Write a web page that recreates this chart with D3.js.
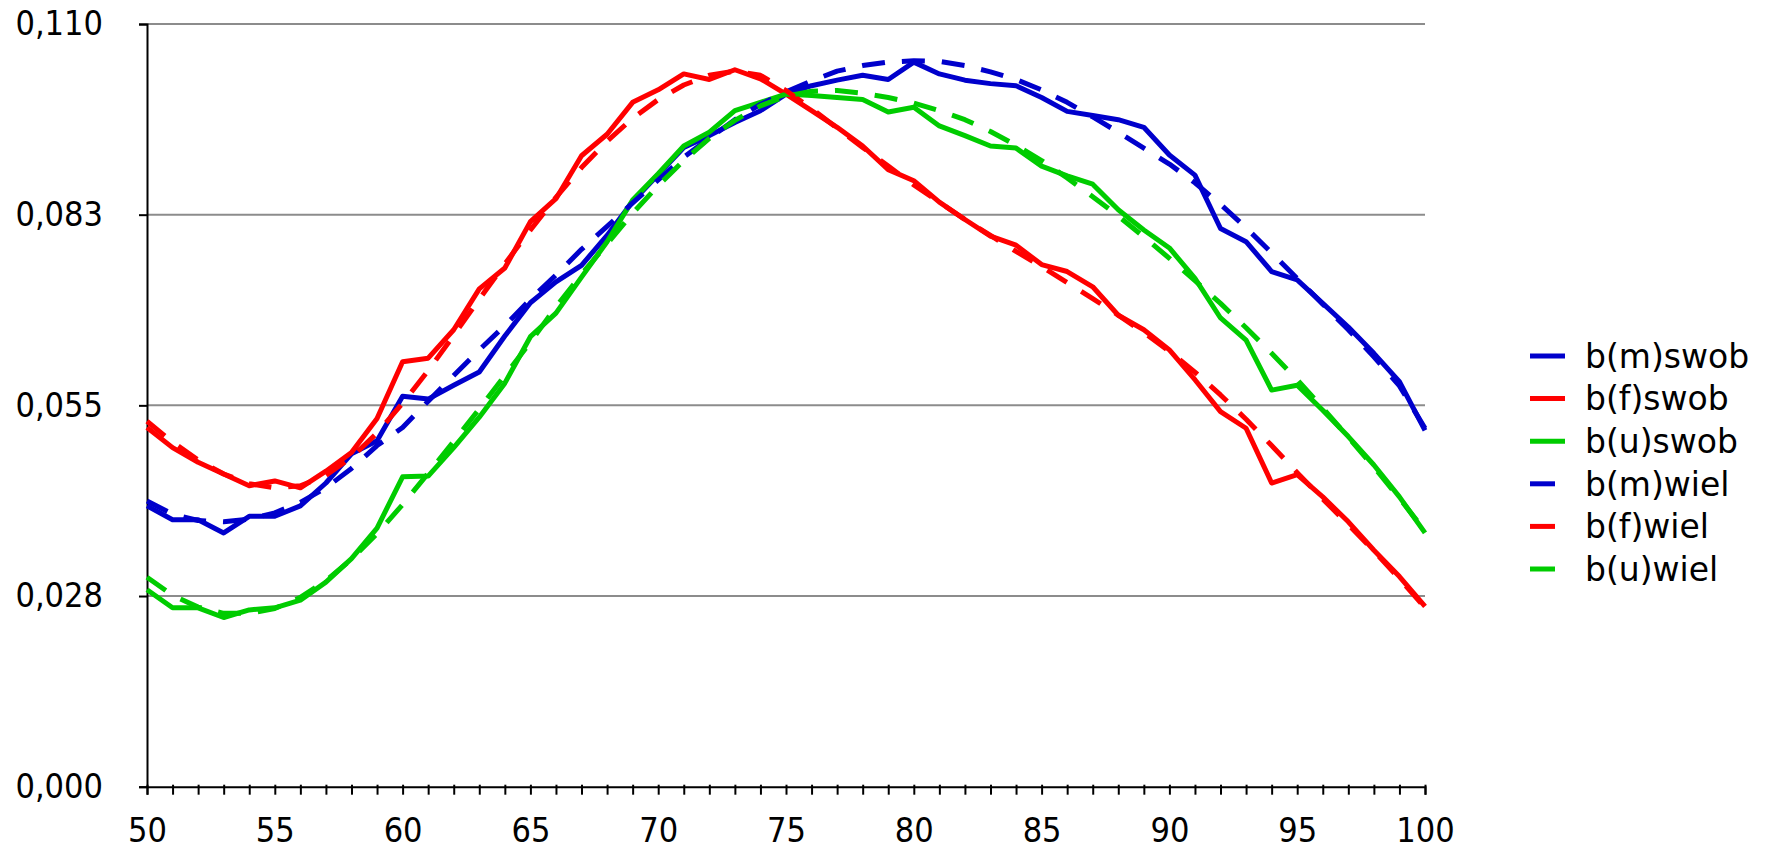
<!DOCTYPE html>
<html>
<head>
<meta charset="utf-8">
<script src="https://cdn.jsdelivr.net/npm/d3@7"></script>
<style>
  body { margin: 0; background: #ffffff; }
  svg { display: block; }
</style>
</head>
<body>
<div id="mydiv"></div>
<script>
const width = 1766,
  height = 850;

const plotLeft = 147,
  plotRight = 1425,
  plotTop = 24,
  plotBottom = 786.7;

// Data
const years = d3.range(50, 101);

const bmSwob = [0.0405, 0.0385, 0.0385, 0.0366, 0.039, 0.039, 0.0405, 0.0438, 0.048, 0.0499,
  0.0563, 0.0559, 0.0579, 0.0598, 0.065, 0.0698, 0.0728, 0.0752, 0.0795, 0.0844,
  0.0883, 0.0922, 0.0939, 0.0958, 0.0975, 0.0999, 0.1011, 0.1019, 0.1026, 0.102,
  0.1045, 0.1028, 0.1019, 0.1014, 0.1011, 0.0994, 0.0974, 0.0968, 0.0962, 0.0951,
  0.0911, 0.0882, 0.0805, 0.0786, 0.0743, 0.0731, 0.0697, 0.0663, 0.0625, 0.0584, 0.0514];

const bfSwob = [0.0518, 0.0489, 0.0468, 0.0451, 0.0434, 0.0441, 0.0431, 0.0455, 0.0482, 0.0531,
  0.0613, 0.0618, 0.0659, 0.0718, 0.0748, 0.0815, 0.0848, 0.091, 0.0941, 0.0987,
  0.1005, 0.1028, 0.102, 0.1034, 0.1021, 0.0999, 0.0975, 0.0951, 0.0924, 0.089,
  0.0874, 0.0843, 0.0818, 0.0794, 0.0781, 0.0753, 0.0743, 0.0721, 0.068, 0.0659,
  0.063, 0.0587, 0.0541, 0.0517, 0.0438, 0.045, 0.0418, 0.0382, 0.0341, 0.0303, 0.026];

const buSwob = [0.0284, 0.0258, 0.0258, 0.0244, 0.0255, 0.0258, 0.0269, 0.0295, 0.0329, 0.0373,
  0.0447, 0.0448, 0.0489, 0.0533, 0.0582, 0.0649, 0.0683, 0.0735, 0.0786, 0.0846,
  0.0884, 0.0924, 0.0944, 0.0975, 0.0987, 0.0999, 0.0997, 0.0994, 0.0991, 0.0973,
  0.098, 0.0953, 0.0939, 0.0924, 0.0921, 0.0895, 0.0881, 0.0869, 0.0832, 0.0803,
  0.0777, 0.0733, 0.0676, 0.0644, 0.0572, 0.0579, 0.0543, 0.0505, 0.0464, 0.0418, 0.0366];

const bmWiel = [0.0412, 0.0393, 0.0384, 0.0382, 0.0386, 0.0395, 0.041, 0.0431, 0.0459, 0.0492,
  0.0518, 0.0556, 0.0593, 0.063, 0.0665, 0.0703, 0.0738, 0.0775, 0.0808, 0.0842,
  0.0875, 0.0908, 0.0935, 0.0962, 0.0984, 0.1002, 0.1018, 0.1032, 0.104, 0.1045,
  0.1047, 0.1046, 0.104, 0.1031, 0.102, 0.1005, 0.0987, 0.0966, 0.0944, 0.0921,
  0.0898, 0.0871, 0.084, 0.0806, 0.077, 0.0733, 0.0696, 0.0659, 0.062, 0.0578, 0.0517];

const bfWiel = [0.0527, 0.0497, 0.0471, 0.0451, 0.0437, 0.0431, 0.0434, 0.0449, 0.0475, 0.051,
  0.0553, 0.06, 0.0651, 0.0703, 0.0754, 0.0803, 0.085, 0.0893, 0.0931, 0.0964,
  0.0991, 0.1012, 0.1026, 0.1032, 0.1026, 0.1004, 0.0978, 0.095, 0.0922, 0.0895,
  0.0868, 0.0843, 0.0818, 0.0795, 0.0772, 0.075, 0.0727, 0.0704, 0.068, 0.0655,
  0.0628, 0.0598, 0.0565, 0.053, 0.0492, 0.0453, 0.0415, 0.0378, 0.034, 0.03, 0.0258];

const buWiel = [0.0302, 0.0276, 0.0259, 0.025, 0.025, 0.0257, 0.0273, 0.0297, 0.0328, 0.0365,
  0.0407, 0.0452, 0.0498, 0.0545, 0.0593, 0.0641, 0.0692, 0.0739, 0.0783, 0.0827,
  0.0867, 0.0903, 0.0935, 0.0961, 0.0982, 0.0996, 0.1003, 0.1004, 0.1, 0.0994,
  0.0986, 0.0975, 0.0962, 0.0945, 0.0925, 0.0903, 0.0878, 0.0851, 0.0823, 0.0793,
  0.0762, 0.073, 0.0697, 0.0662, 0.0625, 0.0587, 0.0546, 0.0504, 0.0461, 0.0416, 0.0369];

const seriesNames = ["b(m)swob", "b(f)swob", "b(u)swob", "b(m)wiel", "b(f)wiel", "b(u)wiel"];
const seriesValues = [bmSwob, bfSwob, buSwob, bmWiel, bfWiel, buWiel];
const seriesColors = ["#0000cc", "#ff0000", "#00cc00", "#0000cc", "#ff0000", "#00cc00"];
const seriesDashed = [false, false, false, true, true, true];

const yTicks = [0, 0.0275, 0.055, 0.0825, 0.11];
const yTickLabels = ["0,000", "0,028", "0,055", "0,083", "0,110"];
const xTickLabels = [50, 55, 60, 65, 70, 75, 80, 85, 90, 95, 100];

const font = "'DejaVu Sans Condensed', 'DejaVu Sans', sans-serif";

//Setting svg
const svg = d3
  .select("#mydiv")
  .append("svg")
  .attr("width", width)
  .attr("height", height)
  .style("font-family", font);

svg.append("rect").attr("width", width).attr("height", height).attr("fill", "#ffffff");

const xScale = d3.scaleLinear().domain([50, 100]).range([plotLeft, plotRight]);
const yScale = d3.scaleLinear().domain([0, 0.11]).range([plotBottom, plotTop]);

//Grid lines
svg
  .append("g")
  .selectAll("line")
  .data(yTicks.slice(1))
  .enter()
  .append("line")
  .attr("x1", plotLeft)
  .attr("x2", plotRight)
  .attr("y1", (d) => yScale(d))
  .attr("y2", (d) => yScale(d))
  .attr("stroke", "#8c8c8c")
  .attr("stroke-width", 2);

//Y axis
const yAxis = d3
  .axisLeft(yScale)
  .tickValues(yTicks)
  .tickFormat((d, i) => yTickLabels[i])
  .tickSize(8)
  .tickPadding(36);

const gy = svg.append("g").attr("transform", `translate(${plotLeft},0)`).call(yAxis);
gy.select(".domain").attr("stroke", "#000").attr("stroke-width", 2);
gy.selectAll(".tick line").attr("stroke", "#000").attr("stroke-width", 2);
gy.selectAll(".tick text")
  .attr("fill", "#000")
  .style("font-size", "34px")
  .style("font-family", font);

//X axis
const xAxis = d3
  .axisBottom(xScale)
  .tickValues(years)
  .tickFormat((d) => (xTickLabels.includes(d) ? d : ""))
  .tickSize(8)
  .tickPadding(23);

const gx = svg.append("g").attr("transform", `translate(0,${plotBottom})`).call(xAxis);
gx.select(".domain").attr("stroke", "#000").attr("stroke-width", 2);
gx.selectAll(".tick line").attr("stroke", "#000").attr("stroke-width", 2).attr("y1", -2);
gx.selectAll(".tick text")
  .attr("fill", "#000")
  .style("font-size", "34px")
  .style("font-family", font);

//Lines
const line = d3
  .line()
  .x((d, i) => xScale(years[i]))
  .y((d) => yScale(d));

seriesValues.forEach((vals, i) => {
  svg
    .append("path")
    .attr("d", line(vals))
    .attr("fill", "none")
    .attr("stroke", seriesColors[i])
    .attr("stroke-width", 5)
    .attr("stroke-linejoin", "round")
    .attr("stroke-dasharray", seriesDashed[i] ? "23,17" : null);
});

//Legend
const legend = svg
  .selectAll(".legend")
  .data(seriesNames)
  .enter()
  .append("g")
  .attr("class", "legend")
  .attr("transform", (d, i) => `translate(1530,${356 + i * 42.6})`);

legend
  .append("line")
  .attr("x1", 0)
  .attr("x2", (d, i) => (seriesDashed[i] ? 25 : 35))
  .attr("y1", 0)
  .attr("y2", 0)
  .attr("stroke", (d, i) => seriesColors[i])
  .attr("stroke-width", 5);

legend
  .append("text")
  .attr("x", 55)
  .attr("y", 0)
  .attr("dy", "0.36em")
  .style("font-size", "33px")
  .style("font-family", "'DejaVu Sans', sans-serif")
  .attr("fill", "#000")
  .text((d) => d);
</script>
</body>
</html>
